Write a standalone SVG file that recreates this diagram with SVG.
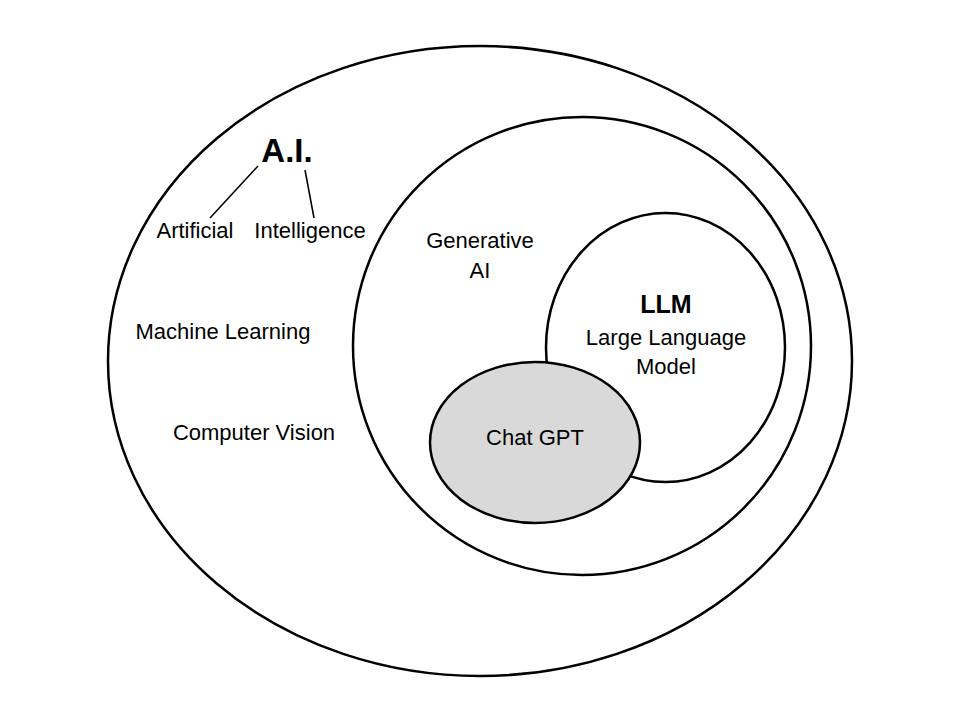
<svg xmlns="http://www.w3.org/2000/svg" width="960" height="720" viewBox="0 0 960 720">
<style>
.e{fill:#fff;stroke:#000;stroke-width:2.5}
.t{font-family:"Liberation Sans",Arial,sans-serif;font-size:22px;fill:#000;text-anchor:middle}
.b{font-weight:bold}
</style>
<rect width="960" height="720" fill="#fff"/>
<g id="ai"><ellipse class="e" cx="480" cy="361" rx="372" ry="315"/>
<text class="t b" x="287" y="162" style="font-size:33px">A.I.</text>
<text class="t" x="195" y="238">Artificial</text>
<text class="t" x="310" y="238">Intelligence</text>
<text class="t" x="223" y="339">Machine Learning</text>
<text class="t" x="254" y="440">Computer Vision</text></g>
<g id="genai"><ellipse class="e" cx="582" cy="346" rx="229" ry="229"/>
<text class="t" x="480" y="248">Generative</text>
<text class="t" x="480" y="278">AI</text></g>
<g id="llm"><ellipse class="e" cx="665.5" cy="347.5" rx="119.5" ry="134.5"/>
<text class="t b" x="666" y="313" style="font-size:25px">LLM</text>
<text class="t" x="666" y="345">Large Language</text>
<text class="t" x="666" y="374">Model</text></g>
<g id="chatgpt"><ellipse class="e" style="fill:#d9d9d9" cx="535" cy="442.5" rx="105" ry="80.5"/>
<text class="t" x="535" y="445">Chat GPT</text></g>
<g id="connectors" stroke="#000" stroke-width="1.5">
<line x1="258" y1="166" x2="210" y2="218"/>
<line x1="305" y1="170" x2="314" y2="218"/></g>
</svg>
